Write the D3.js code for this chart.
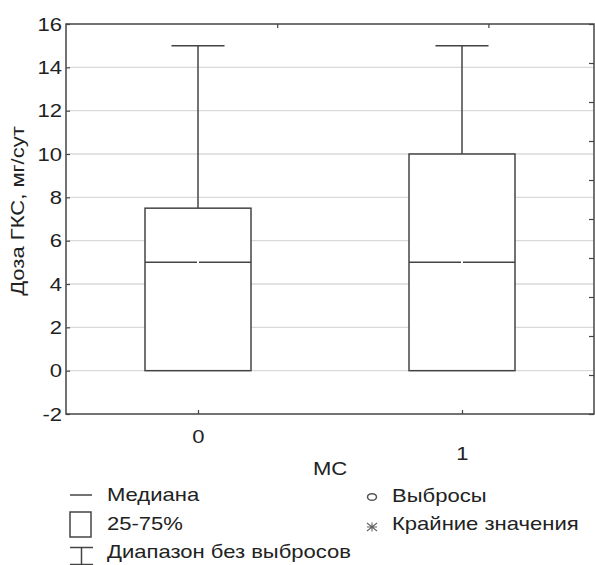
<!DOCTYPE html>
<html><head><meta charset="utf-8">
<script src="https://cdn.jsdelivr.net/npm/d3@7"></script>
<style>body{margin:0;background:#fff}text{font-family:"Liberation Sans",Arial,sans-serif;fill:#222}</style>
</head><body>
<svg id="c" width="595" height="565"></svg>
<script>
const categories = ["0", "1"];
const mins = [0, 0];
const q1s = [0, 0];
const medians = [5, 5];
const q3s = [7.5, 10];
const maxs = [15, 15];
const yTicks = [-2, 0, 2, 4, 6, 8, 10, 12, 14, 16];
const yTitle = "Доза ГКС, мг/сут";
const xTitle = "МС";
const legendLeft = ["Медиана", "25-75%", "Диапазон без выбросов"];
const legendRight = ["Выбросы", "Крайние значения"];

const svg = d3.select("#c");
const L = 66, R = 594, T = 24, B = 414;
const col = "#444";
const FS = 19, SX = 1.16;
const y = d3.scaleLinear().domain([-2, 16]).range([B, T]);
const x = d3.scalePoint().domain(categories).range([L, R]).padding(0.5);
const yR = d3.scaleLinear().domain([0, 10]).range([B, T]);
const xT = d3.scaleLinear().domain([0, 2.5]).range([L, R]);

function label(sel, tx, ty, txt, anchor, rot) {
  return sel.append("text")
    .attr("transform", `translate(${tx},${ty})` + (rot ? ` rotate(${rot})` : "") + ` scale(${SX},1)`)
    .attr("text-anchor", anchor || "start").attr("font-size", FS).text(txt);
}

// gridlines
svg.append("g").selectAll("line").data(yTicks.filter(v => v > -2 && v < 16)).join("line")
  .attr("x1", L + 2).attr("x2", R - 1).attr("y1", d => y(d)).attr("y2", d => y(d))
  .attr("stroke", "#d9d9d9").attr("stroke-width", 1.3);

// boxes
const bw = 106;
const data = categories.map((c, i) => ({c, min: mins[i], q1: q1s[i], med: medians[i], q3: q3s[i], max: maxs[i]}));
const g = svg.append("g").attr("stroke", col).attr("stroke-width", 1.5);
data.forEach(d => {
  const cx = x(d.c);
  g.append("line").attr("x1", cx).attr("x2", cx).attr("y1", y(d.q3)).attr("y2", y(d.max));
  g.append("line").attr("x1", cx - bw / 4).attr("x2", cx + bw / 4).attr("y1", y(d.max)).attr("y2", y(d.max));
  g.append("rect").attr("x", cx - bw / 2).attr("width", bw).attr("y", y(d.q3)).attr("height", y(d.q1) - y(d.q3)).attr("fill", "#fff");
  g.append("line").attr("x1", cx - bw / 2).attr("x2", cx - 1).attr("y1", y(d.med)).attr("y2", y(d.med));
  g.append("line").attr("x1", cx + 1).attr("x2", cx + bw / 2).attr("y1", y(d.med)).attr("y2", y(d.med));
});

// frame
svg.append("rect").attr("x", L).attr("y", T).attr("width", R - L).attr("height", B - T)
  .attr("fill", "none").attr("stroke", col).attr("stroke-width", 1.5);

// left axis
const ay = svg.append("g").attr("transform", `translate(${L},0)`)
  .call(d3.axisLeft(y).tickValues(yTicks).tickSize(-4).tickPadding(4).tickFormat(d => String(d)));
ay.select(".domain").remove();
ay.selectAll(".tick line").attr("stroke", col).attr("stroke-width", 1.2);
ay.selectAll("text").attr("font-size", FS).attr("fill", "#222")
  .style("font-family", "Liberation Sans, Arial, sans-serif")
  .attr("x", 0).attr("transform", `translate(-4,0) scale(${SX},1)`);

// right axis (unlabelled ticks)
const ar = svg.append("g").attr("transform", `translate(${R},0)`)
  .call(d3.axisRight(yR).ticks(10).tickSize(-5).tickFormat(""));
ar.select(".domain").remove();
ar.selectAll(".tick line").attr("stroke", col).attr("stroke-width", 1.2);

// top axis (unlabelled ticks)
const at = svg.append("g").attr("transform", `translate(0,${T})`)
  .call(d3.axisTop(xT).tickValues([1, 2]).tickSize(-4).tickFormat(""));
at.select(".domain").remove();
at.selectAll(".tick line").attr("stroke", col).attr("stroke-width", 1.2);

// bottom axis
const ab = svg.append("g").attr("transform", `translate(0,${B})`)
  .call(d3.axisBottom(x).tickSize(-4).tickPadding(0));
ab.select(".domain").remove();
ab.selectAll(".tick line").attr("stroke", col).attr("stroke-width", 1.2);
ab.selectAll("text").attr("font-size", FS).attr("fill", "#222")
  .style("font-family", "Liberation Sans, Arial, sans-serif")
  .attr("dy", null).attr("y", (d, i) => i === 0 ? 29 : 46)
  .attr("transform", `scale(${SX},1)`);

// titles
label(svg, 24, 211, yTitle, "middle", -90);
label(svg, 330, 475, xTitle, "middle");

// legend
const lg = svg.append("g");
const rows = [501, 530, 558];
legendLeft.forEach((t, i) => label(lg, 107, rows[i], t));
function ln(x1, y1, x2, y2) { lg.append("line").attr("x1", x1).attr("y1", y1).attr("x2", x2).attr("y2", y2).attr("stroke", col).attr("stroke-width", 1.5); }
ln(70, 495, 92, 495);
lg.append("rect").attr("x", 70).attr("y", 512).attr("width", 21).attr("height", 25).attr("fill", "none").attr("stroke", col).attr("stroke-width", 1.5);
ln(70, 547.5, 93, 547.5);
ln(81.5, 547.5, 81.5, 565);
ln(70, 564.5, 93, 564.5);
const rrows = [502, 530];
legendRight.forEach((t, i) => label(lg, 392, rrows[i], t));
lg.append("ellipse").attr("cx", 372).attr("cy", 497).attr("rx", 4.5).attr("ry", 3.3).attr("fill", "none").attr("stroke", "#555").attr("stroke-width", 1.5);
const sx = 372, sy = 527;
lg.append("path").attr("d", `M${sx},${sy-4.5}V${sy+4.5}M${sx-5},${sy-4}L${sx+5},${sy+4}M${sx+5},${sy-4}L${sx-5},${sy+4}M${sx-5},${sy}H${sx+5}`)
  .attr("stroke", "#666").attr("stroke-width", 1.1).attr("fill", "none");
</script>
</body></html>
